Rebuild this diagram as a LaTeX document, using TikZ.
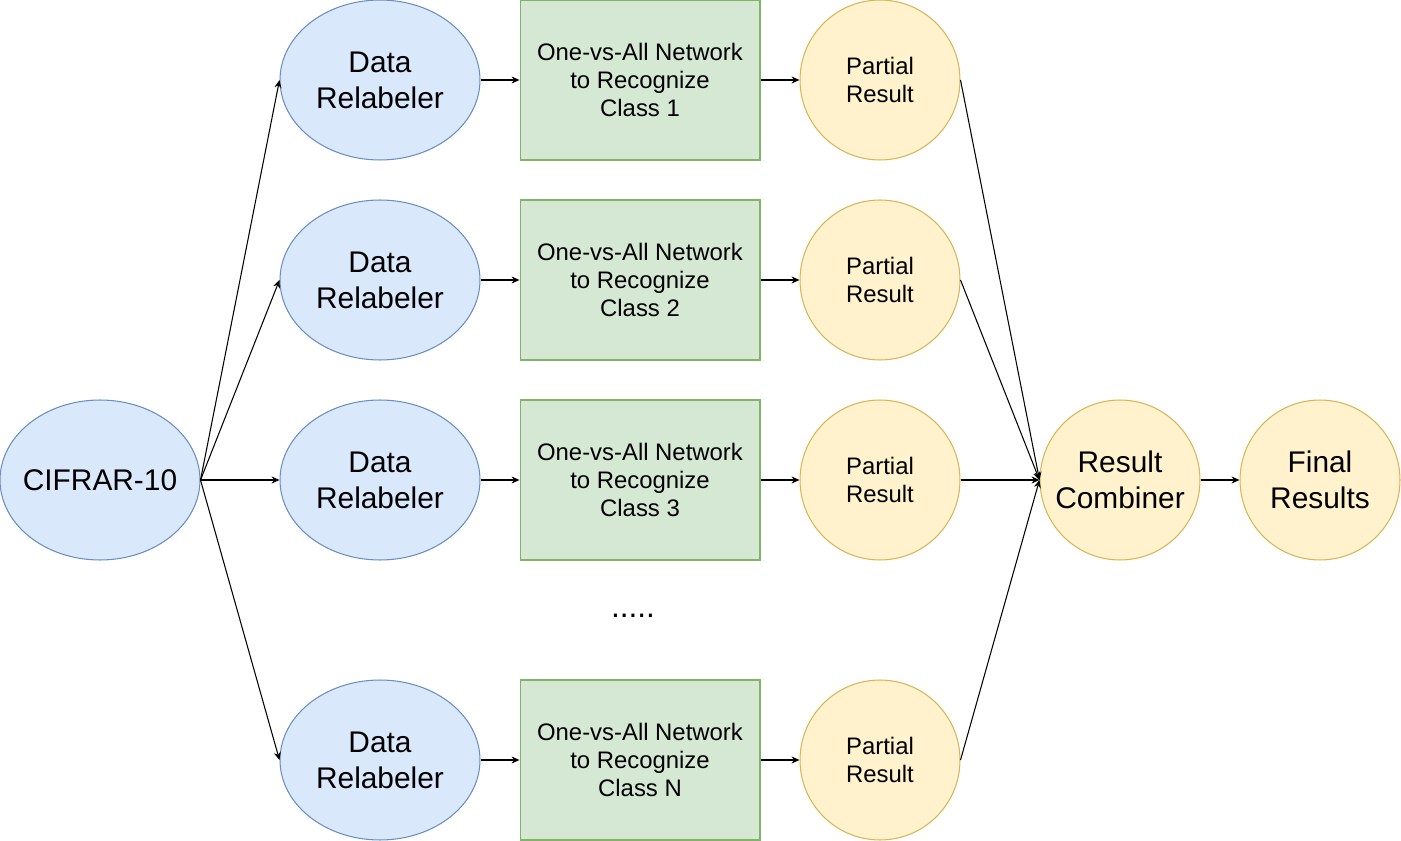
\documentclass[tikz,border=0pt]{standalone}
\usepackage{fontspec}
\setmainfont{Liberation Sans}
\usetikzlibrary{arrows.meta,positioning,shapes.geometric}
\definecolor{relabFill}{HTML}{DAE8FC}
\definecolor{relabDraw}{HTML}{6C8EBF}
\definecolor{netFill}{HTML}{D5E8D4}
\definecolor{netDraw}{HTML}{82B366}
\definecolor{resFill}{HTML}{FFF2CC}
\definecolor{resDraw}{HTML}{D6B656}
\tikzset{
  relab/.style={ellipse, draw=relabDraw, fill=relabFill, line width=0.6pt, minimum width=4cm, minimum height=3.2cm, inner sep=0pt, align=center, font=\fontsize{17}{20.4}\selectfont},
  netbox/.style={rectangle, draw=netDraw, fill=netFill, line width=0.6pt, minimum width=4.8cm, minimum height=3.2cm, inner sep=0pt, align=center, font=\fontsize{13.6}{15.9}\selectfont},
  partial/.style={circle, draw=resDraw, fill=resFill, line width=0.6pt, minimum size=3.2cm, inner sep=0pt, align=center, font=\fontsize{13.6}{15.9}\selectfont},
  combiner/.style={partial, font=\fontsize{17}{20.4}\selectfont},
  arr/.style={-{Stealth[length=4.5pt,width=4pt]}, line width=0.6pt}
}
\begin{document}
\begin{tikzpicture}[x=0.02cm,y=-0.02cm]
\useasboundingbox (0,0) rectangle (1401,841);
\node[relab, inner xsep=-0.3cm] (cifrar) at (100,480) {CIFRAR-10};
\node[combiner] (combiner) at (1120,480) {Result\\Combiner};
\node[combiner] (final) at (1320,480) {Final\\Results};
\foreach \r/\y/\c in {1/80/1,2/280/2,3/480/3,4/760/N} {
  \node[relab] (relab\r) at (380,\y) {Data\\Relabeler};
  \node[netbox] (net\r) at (640,\y) {One-vs-All Network\\to Recognize\\Class \c};
  \node[partial] (part\r) at (880,\y) {Partial\\Result};
  \draw[arr] (cifrar.east) -- (relab\r.west);
  \draw[arr] (relab\r.east) -- (net\r.west);
  \draw[arr] (net\r.east) -- (part\r.west);
  \draw[arr] (part\r.east) -- (combiner.west);
}
\draw[arr] (combiner.east) -- (final.west);
\node[anchor=base, font=\fontsize{18}{20}\selectfont] (dots) at (633,617) {.....};
\end{tikzpicture}
\end{document}
